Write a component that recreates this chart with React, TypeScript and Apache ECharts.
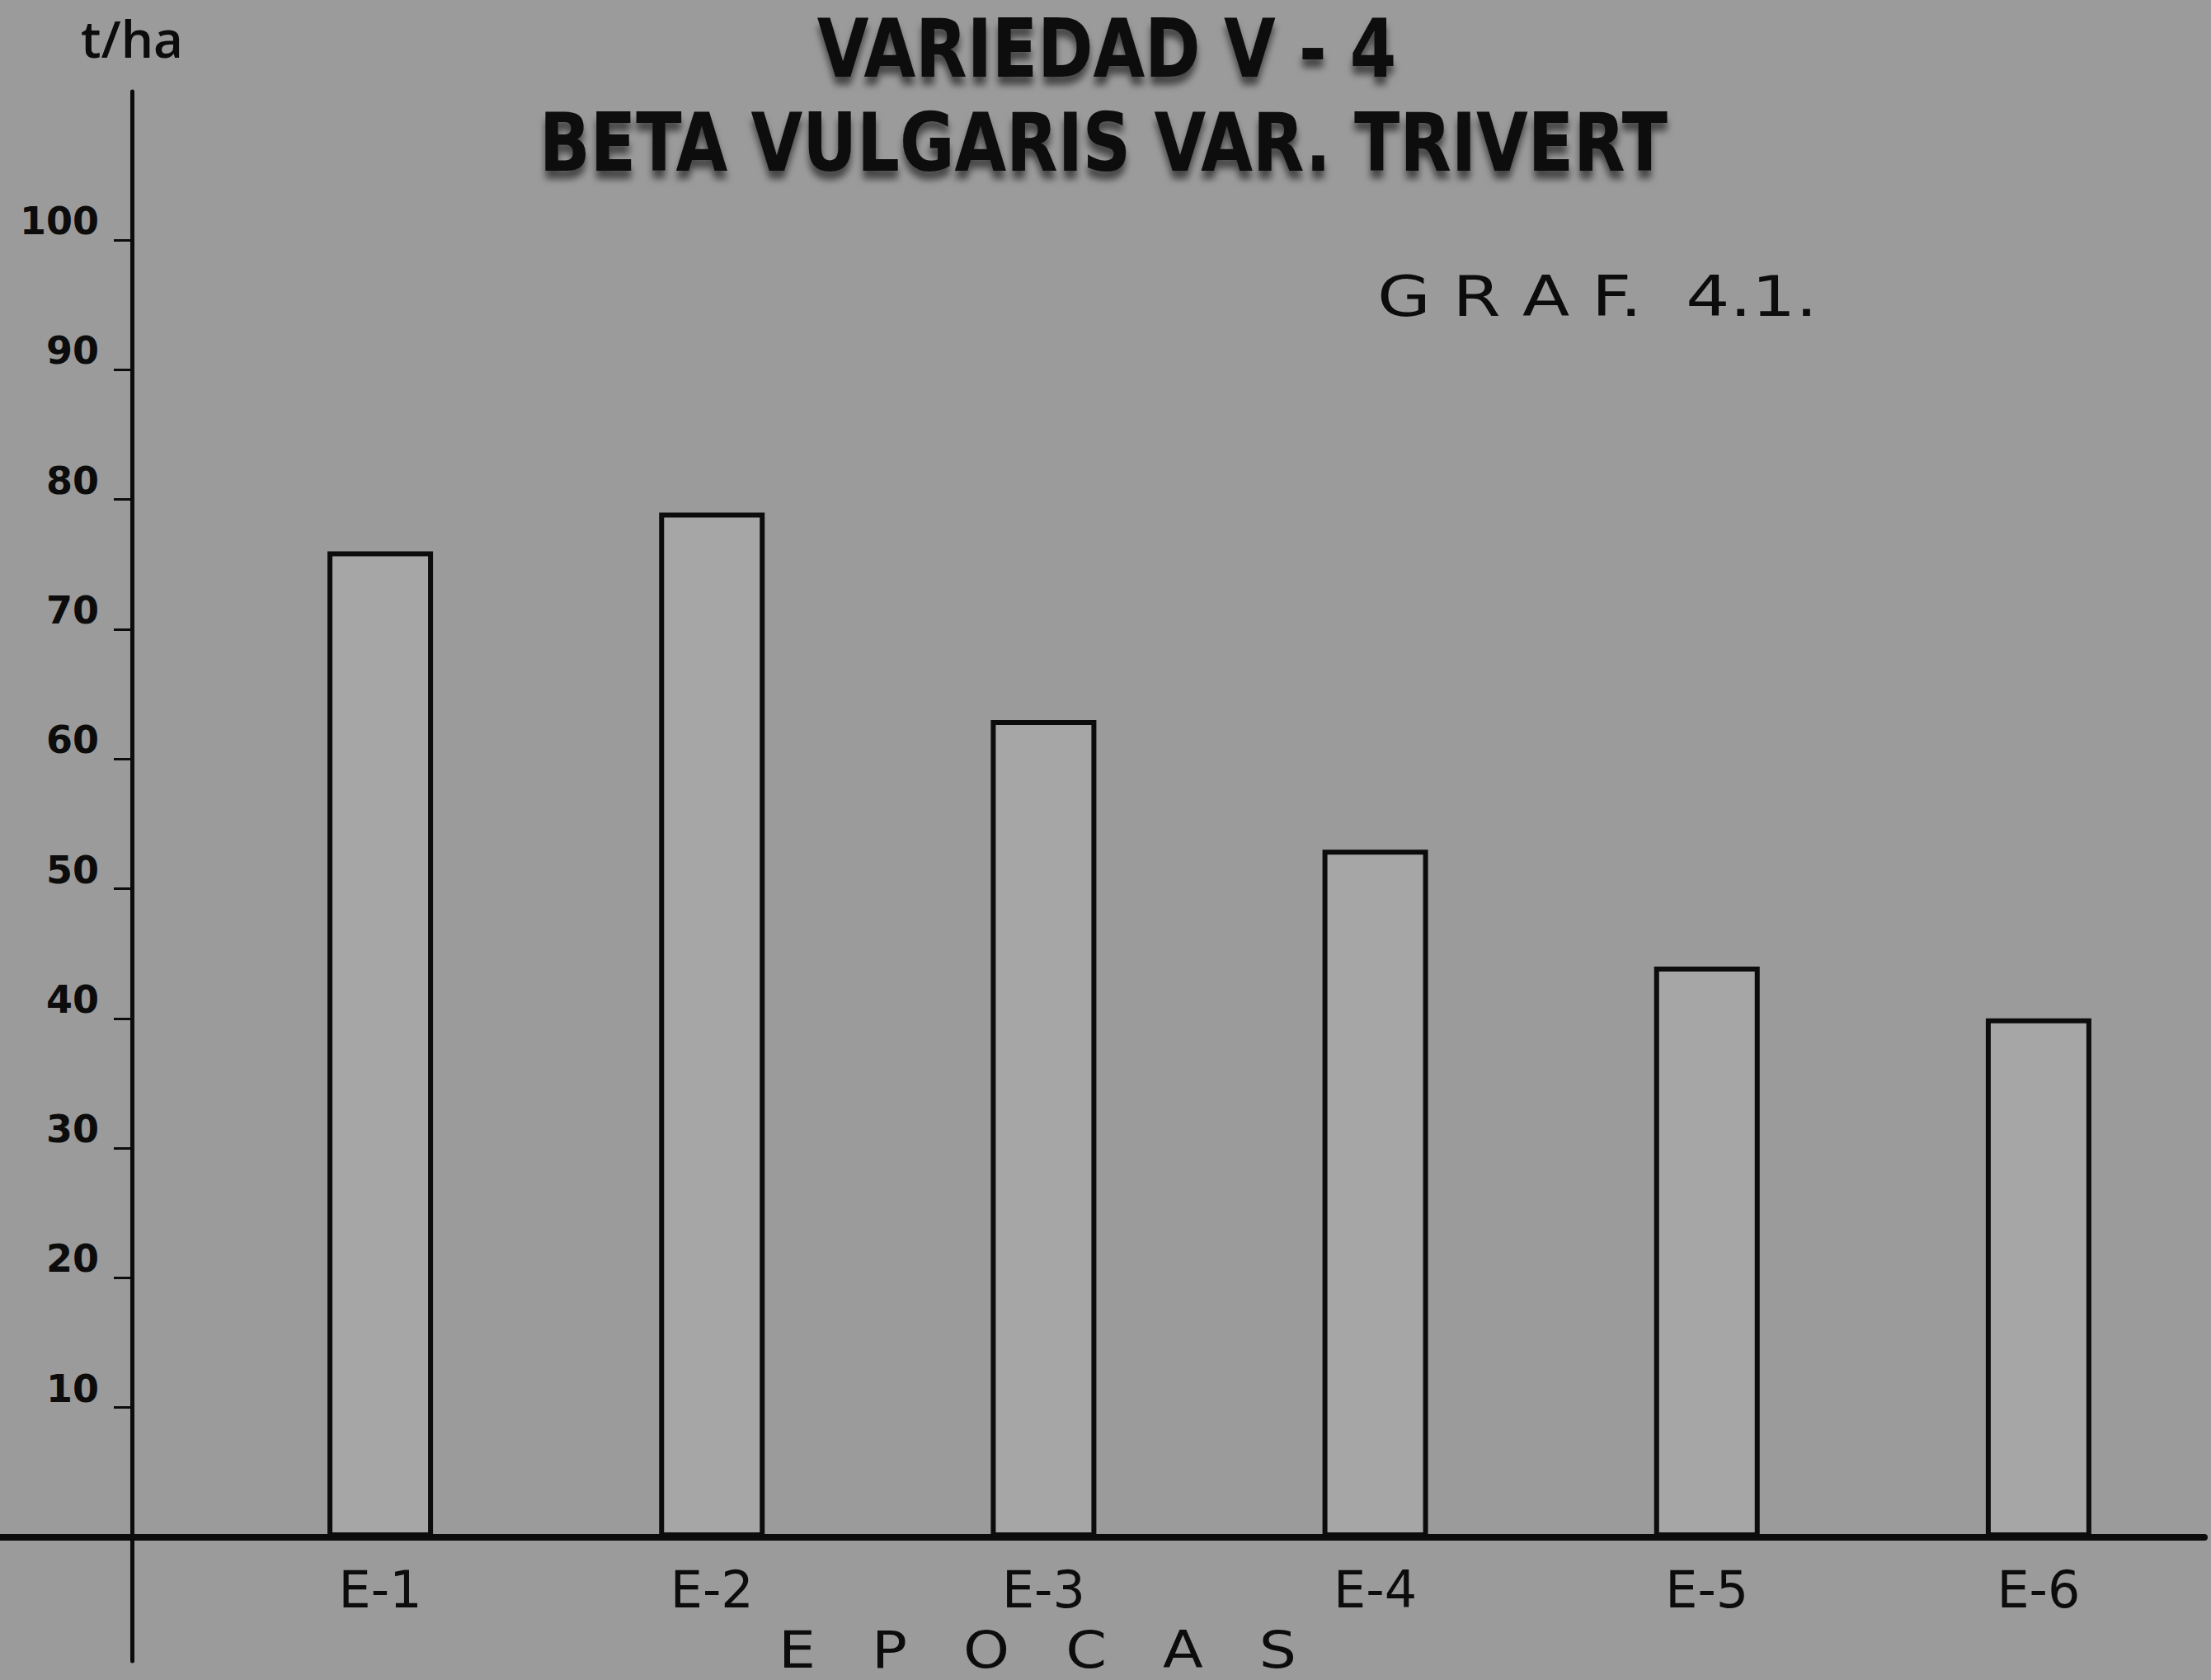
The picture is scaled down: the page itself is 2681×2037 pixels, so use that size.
import React, { useEffect, useRef } from "react";
import * as echarts from "echarts";

const categories = ["E-1", "E-2", "E-3", "E-4", "E-5", "E-6"];
const yields = [76, 79, 63, 53, 44, 40];
const yTickValues = [10, 20, 30, 40, 50, 60, 70, 80, 90, 100];
const titleLines = ["VARIEDAD V - 4", "BETA VULGARIS VAR. TRIVERT"];
const graphLabel = "G R A F.  4.1.";
const xAxisName = "E   P   O   C   A   S";
const yAxisName = "t/ha";

export default function App() {
  const ref = useRef<HTMLDivElement>(null);
  useEffect(() => {
    if (!ref.current) return;
    const chart = echarts.init(ref.current, undefined, { renderer: "svg" });
    const ink = "#0c0c0c";
    const titleStyle = {
      fontFamily: "'DejaVu Sans Condensed', 'DejaVu Sans', sans-serif",
      fontWeight: "bold",
      fontSize: 98,
      lineHeight: 84,
      fill: ink,
      align: "center",
      verticalAlign: "middle",
      textShadowColor: "rgba(0,0,0,0.55)",
      textShadowBlur: 8,
      textShadowOffsetY: 10,
    };
    chart.setOption({
      animation: false,
      backgroundColor: "#9b9b9b",
      grid: {
        left: 260,
        right: 8,
        top: 111,
        bottom: 23,
        containLabel: false,
        outerBoundsMode: "none",
      },
      xAxis: {
        type: "category",
        data: categories,
        offset: -150,
        axisLine: { onZero: false, lineStyle: { color: ink, width: 8 } },
        axisTick: { show: false },
        axisLabel: {
          margin: 32,
          fontFamily: "'DejaVu Sans', sans-serif",
          fontSize: 62,
          color: ink,
        },
      },
      yAxis: {
        type: "value",
        min: -9.54,
        max: 111.45,
        offset: 100,
        name: yAxisName,
        nameLocation: "end",
        nameGap: 34,
        nameTextStyle: {
          fontFamily: "'Open Sans', sans-serif",
          fontWeight: 600,
          fontSize: 62,
          color: ink,
        },
        splitLine: { show: false },
        axisLine: { show: true, lineStyle: { color: ink, width: 5 } },
        axisTick: {
          show: true,
          length: 22,
          customValues: yTickValues,
          lineStyle: { color: ink, width: 3 },
        },
        axisLabel: {
          customValues: yTickValues,
          margin: 40,
          verticalAlign: "bottom",
          fontFamily: "'DejaVu Sans', sans-serif",
          fontWeight: "bold",
          fontSize: 46,
          color: ink,
        },
      },
      series: [
        {
          type: "bar",
          data: yields,
          barWidth: 128,
          itemStyle: { color: "#a6a6a6", borderColor: ink, borderWidth: 6 },
        },
      ],
      graphic: [
        {
          type: "text",
          x: 1342,
          y: 59,
          scaleX: 0.92,
          style: { ...titleStyle, text: titleLines[0] },
        },
        {
          type: "text",
          x: 1338,
          y: 173,
          scaleX: 0.92,
          style: { ...titleStyle, text: titleLines[1] },
        },
        {
          type: "line",
          shape: { x1: 0, y1: 1864, x2: 262, y2: 1864 },
          style: { stroke: ink, lineWidth: 8 },
        },
        {
          type: "text",
          x: 1670,
          y: 359,
          scaleX: 1.23,
          style: {
            text: graphLabel,
            fontFamily: "'DejaVu Sans', sans-serif",
            fontSize: 68,
            fill: ink,
            verticalAlign: "middle",
            align: "left",
          },
        },
        {
          type: "text",
          x: 1258,
          y: 2001,
          scaleX: 1.15,
          style: {
            text: xAxisName,
            fontFamily: "'DejaVu Sans', sans-serif",
            fontSize: 62,
            fill: ink,
            verticalAlign: "middle",
            align: "center",
          },
        },
      ],
    });
    return () => chart.dispose();
  }, []);
  return (
    <div
      ref={ref}
      style={{ position: "fixed", left: 0, top: 0, width: 2681, height: 2037 }}
    />
  );
}
